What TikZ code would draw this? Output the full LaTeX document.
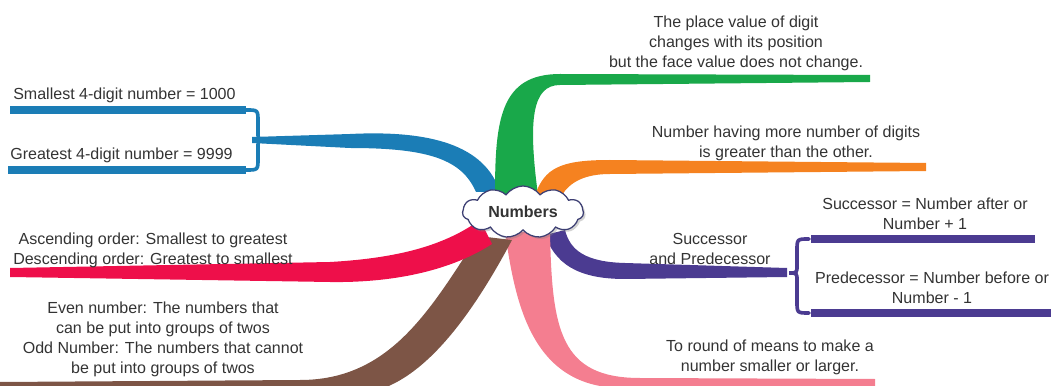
\documentclass[tikz,border=0pt]{standalone}
\usepackage{fontspec}
\setmainfont{Liberation Sans}
\usetikzlibrary{shapes.symbols,shadows}
\definecolor{mapblue}{HTML}{1B7DB6}
\definecolor{mapgreen}{HTML}{19A84A}
\definecolor{maporange}{HTML}{F58220}
\definecolor{mapred}{HTML}{EE0F4A}
\definecolor{mapbrown}{HTML}{7D5546}
\definecolor{mappink}{HTML}{F47E90}
\definecolor{mappurple}{HTML}{4B3B91}
\definecolor{cloudline}{HTML}{3D3F73}
\definecolor{darktext}{HTML}{333333}
% #1 colour, #2 x of the bar, #3 side (1 tip right, -1 tip left), #4 top, #5 middle, #6 bottom
\newcommand{\fork}[6]{\draw[#1,line width=2.6pt,line cap=round] ({#2-12*(#3)},#4) .. controls (#2,#4) .. (#2,#4+12) -- (#2,#5-8) .. controls (#2,#5) .. ({#2+8*(#3)},#5) .. controls (#2,#5) .. (#2,#5+8) -- (#2,#6-12) .. controls (#2,#6) .. ({#2-12*(#3)},#6);}

\begin{document}
\begin{tikzpicture}[x=0.025cm,y=-0.025cm,
  leaf/.style={text=darktext,align=center,inner sep=0pt,font=\fontsize{11.4}{14.2}\selectfont},
  arm/.style={line width=5pt}]
\useasboundingbox (0,0) rectangle (1051,386);
% branches
\fill[mapblue] (252,137)--(350,134) .. controls (430,130) and (485,145) .. (500,192)--(476,192) .. controls (462,160) and (430,148) .. (350,148)--(252,143)--cycle;
\draw[mapblue,arm] (10,110)--(246,110);\draw[mapblue,arm] (8,170)--(246,170);
\fork{mapblue}{258}{1}{110}{140}{170}
\fill[mapgreen] (495,195) .. controls (495,120) and (500,74) .. (560,74)--(870,75)--(870,82)--(560,85) .. controls (532,85) and (528,120) .. (538,195)--cycle;
\fill[maporange] (535,195) .. controls (545,168) and (560,160) .. (610,160)--(926,163)--(926,171)--(610,174) .. controls (585,174) and (570,182) .. (562,195)--cycle;
\fill[mappurple] (565,230) .. controls (570,250) and (585,262) .. (625,263)--(787,268)--(787,277)--(625,279) .. controls (575,279) and (555,262) .. (545,235)--cycle;
\draw[mappurple,arm] (811,239)--(1035,239);\draw[mappurple,arm] (811,313)--(1060,313);
\fork{mappurple}{797}{-1}{239}{273}{313}
\fill[mappink] (505,232) .. controls (515,300) and (530,386) .. (620,388)--(875,388)--(875,379)--(640,378) .. controls (560,378) and (552,330) .. (550,232)--cycle;
\fill[mapbrown] (478,236) .. controls (430,310) and (390,380) .. (300,380)--(0,382)--(0,392)--(370,392) .. controls (430,380) and (480,300) .. (512,240)--cycle;
\fill[mapred] (10,268)--(330,262) .. controls (400,258) and (445,245) .. (480,220)--(492,244) .. controls (455,268) and (400,283) .. (330,282)--(10,277)--cycle;
% centre
\node[cloud,cloud puffs=11,cloud puff arc=110,cloud ignores aspect,minimum width=86pt,minimum height=37pt,draw=cloudline,line width=0.9pt,fill=white,drop shadow={opacity=0.35,shadow xshift=1.5pt,shadow yshift=-1.5pt},text=darktext,font=\bfseries\fontsize{11.4}{14}\selectfont] (num) at (523,212){Numbers};
% labels
\node[leaf,anchor=west] (smallest) at (13,95){Smallest 4-digit number = 1000};
\node[leaf,anchor=west] (greatest) at (10,155){Greatest 4-digit number = 9999};
\node[leaf] (place) at (736,43){The place value of digit\\changes with its position\\but the face value does not change.};
\node[leaf] (digits) at (786,143){Number having more number of digits\\is greater than the other.};
\node[leaf] (sp) at (710,249){Successor\\and Predecessor};
\node[leaf] (succ) at (925,214){Successor = Number after or\\Number + 1};
\node[leaf] (pred) at (932,288){Predecessor = Number before or\\Number - 1};
\node[leaf] (round) at (770,357){To round of means to make a\\number smaller or larger.};
\node[leaf] (order) at (153,250){Ascending order: Smallest to greatest\\Descending order: Greatest to smallest};
\node[leaf] (evenodd) at (163,339){Even number: The numbers that\\can be put into groups of twos\\Odd Number: The numbers that cannot\\be put into groups of twos};
\end{tikzpicture}
\end{document}
